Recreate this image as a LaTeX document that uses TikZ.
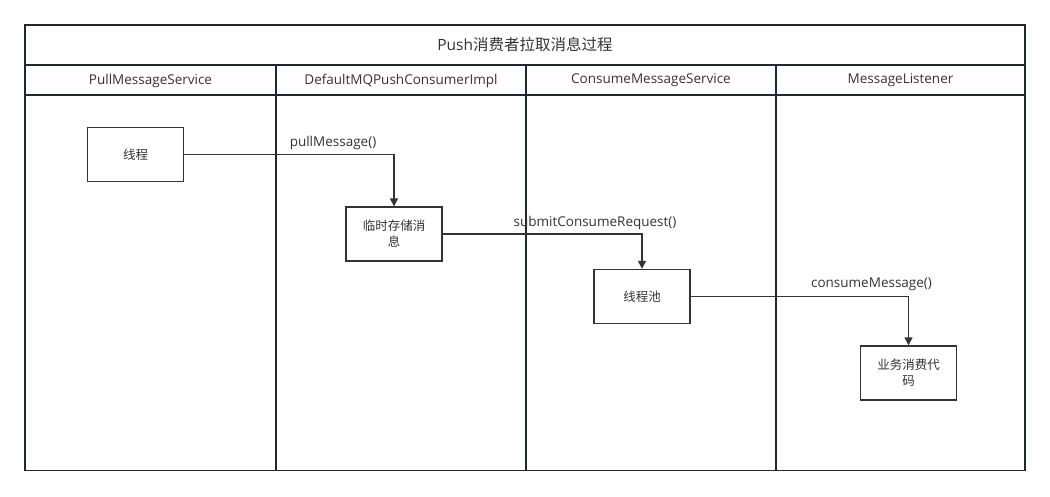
\documentclass[tikz,border=0pt]{standalone}
\usepackage{fontspec}
\setmainfont{Open Sans}
\newfontfamily\cjk{Noto Sans CJK SC}
\usetikzlibrary{arrows.meta}
\definecolor{frame}{HTML}{1F2933}
\definecolor{ln}{HTML}{333333}
\begin{document}
\begin{tikzpicture}[x=1pt,y=-1pt,
  lane/.style={draw=frame,line width=1.6pt},
  hdr/.style={font=\fontsize{13.5}{15}\selectfont,text=ln,anchor=center},
  proc/.style={draw=ln,line width=1.4pt,fill=white,minimum width=96pt,minimum height=54pt,inner sep=2pt,align=center,font=\cjk\fontsize{12.5}{16}\selectfont,text=ln},
  flow/.style={draw=ln,line width=1.4pt,-{Triangle[length=8pt,width=8pt]}},
  lbl/.style={font=\fontsize{13.5}{15}\selectfont,text=ln,anchor=center}]
\useasboundingbox (0,0) rectangle (1050,496);
% frame
\draw[lane] (25,25) rectangle (1025,470.5);
\draw[lane] (25,65) -- (1025,65);
\draw[lane] (25,95) -- (1025,95);
\draw[lane] (276,65) -- (276,470.5);
\draw[lane] (526,65) -- (526,470.5);
\draw[lane] (776,65) -- (776,470.5);
\node[font=\fontsize{15.5}{18}\selectfont,text=ln] (title) at (525,45) {Push{\cjk 消费者拉取消息过程}};
\node[hdr] (h1) at (150.5,80.5) {PullMessageService};
\node[hdr] (h2) at (401,80.5) {DefaultMQPushConsumerImpl};
\node[hdr] (h3) at (651,80.5) {ConsumeMessageService};
\node[hdr] (h4) at (900.5,80.5) {MessageListener};
% boxes
\node[proc] (a) at (135.5,154.5) {线程};
\node[proc] (b) at (394,234) {临时存储消\\息};
\node[proc] (c) at (642,296.5) {线程池};
\node[proc] (d) at (908.5,373) {业务消费代\\码};
% arrows
\draw[flow] (a.east) -| (b.north);
\draw[flow] (b.east) -| (c.north);
\draw[flow] (c.east) -| (d.north);
\node[lbl] (l1) at (333,142.5) {pullMessage()};
\node[lbl] (l2) at (595,222.5) {submitConsumeRequest()};
\node[lbl] (l3) at (871.5,284.5) {consumeMessage()};
\end{tikzpicture}
\end{document}
